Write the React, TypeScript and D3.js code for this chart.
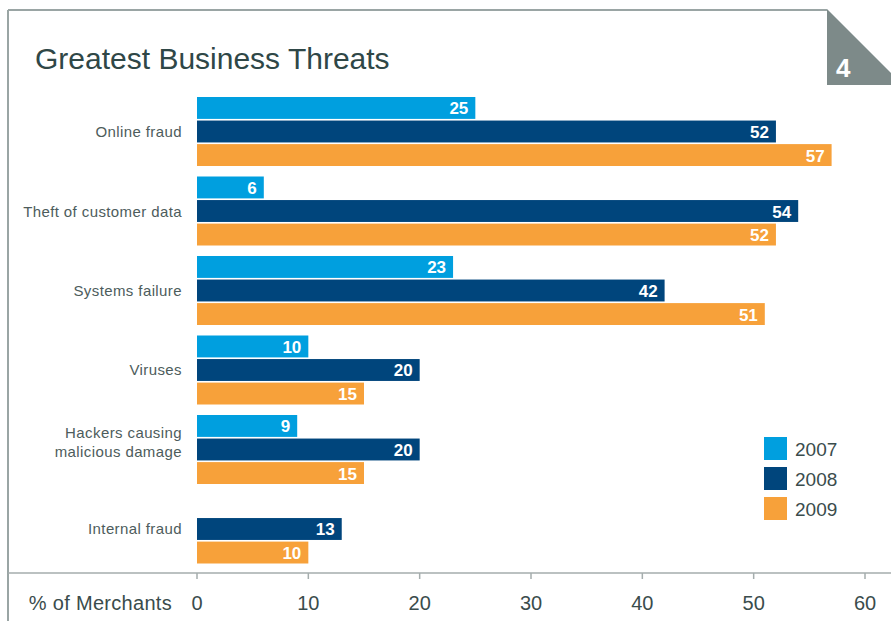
import React from "react";
import * as d3 from "d3";

const categories = [
  "Online fraud",
  "Theft of customer data",
  "Systems failure",
  "Viruses",
  "Hackers causing\nmalicious damage",
  "Internal fraud",
];
const years = ["2007", "2008", "2009"];
const values2007: (number | null)[] = [25, 6, 23, 10, 9, null];
const values2008: (number | null)[] = [52, 54, 42, 20, 20, 13];
const values2009: (number | null)[] = [57, 52, 51, 15, 15, 10];
const xTicks = [0, 10, 20, 30, 40, 50, 60];
const colors = ["#009fdf", "#00457c", "#f7a13a"];

const W = 891;
const H = 621;
const FONT = "'Liberation Sans', Arial, sans-serif";
const TEXT = "#3a4c4c";

export default function App() {
  const series = [values2007, values2008, values2009];
  const x = d3.scaleLinear().domain([0, 60]).range([197, 865]);
  const y0 = d3
    .scaleBand<string>()
    .domain(categories)
    .range([97, 563.5])
    .paddingInner(0.132)
    .paddingOuter(0);
  const y1 = d3
    .scaleBand<string>()
    .domain(years)
    .range([0, y0.bandwidth()])
    .paddingInner(0.07);

  return (
    <svg
      width={W}
      height={H}
      style={{ position: "absolute", left: 0, top: 0, display: "block" }}
      fontFamily={FONT}
    >
      <rect x={0} y={0} width={W} height={H} fill="#fff" />
      {/* frame */}
      <line x1={8} y1={10} x2={8} y2={H} stroke="#9aa5a4" strokeWidth={2} />
      <line x1={8} y1={10} x2={827} y2={10} stroke="#9aa5a4" strokeWidth={2} />
      <polygon points="827,9 891,73 891,85 827,85" fill="#7d8a89" />
      <text x={836} y={77} fill="#fff" fontSize={26} fontWeight="bold">
        4
      </text>
      {/* title */}
      <text x={35} y={69} fill="#2f4747" fontSize={30}>
        Greatest Business Threats
      </text>

      {/* bars */}
      {categories.map((cat, ci) => {
        const gy = y0(cat)!;
        const lines = cat.split("\n");
        const cy = gy + y0.bandwidth() / 2;
        return (
          <g key={cat}>
            {lines.map((ln, li) => (
              <text
                key={li}
                x={182}
                y={
                  lines.length === 1
                    ? cy
                    : cy - 7.5 + (li - (lines.length - 1) / 2) * 19
                }
                dominantBaseline="central"
                textAnchor="end"
                fontSize={15}
                letterSpacing={0.4}
                fill="#4d5c5c"
              >
                {ln}
              </text>
            ))}
            {years.map((yr, si) => {
              const v = series[si][ci];
              if (v == null) return null;
              const by = gy + y1(yr)!;
              return (
                <g key={yr}>
                  <rect
                    x={x(0)}
                    y={by}
                    width={x(v) - x(0)}
                    height={y1.bandwidth()}
                    fill={colors[si]}
                  />
                  <text
                    x={x(v) - 7}
                    y={by + y1.bandwidth() / 2 + 1}
                    dominantBaseline="central"
                    textAnchor="end"
                    fontSize={17}
                    fontWeight="bold"
                    fill="#fff"
                  >
                    {v}
                  </text>
                </g>
              );
            })}
          </g>
        );
      })}

      {/* axis */}
      <line x1={8} y1={573} x2={W} y2={573} stroke="#a5adad" strokeWidth={1.5} />
      {xTicks.map((t) => (
        <g key={t}>
          <line x1={x(t)} y1={573} x2={x(t)} y2={579} stroke="#a5adad" strokeWidth={1.5} />
          <text
            x={x(t)}
            y={603}
            textAnchor="middle"
            dominantBaseline="central"
            fontSize={20}
            fill={TEXT}
          >
            {t}
          </text>
        </g>
      ))}
      <text
        x={172}
        y={603}
        textAnchor="end"
        dominantBaseline="central"
        fontSize={20}
        letterSpacing={0.3}
        fill={TEXT}
      >
        % of Merchants
      </text>

      {/* legend */}
      {years.map((yr, i) => (
        <g key={yr}>
          <rect x={764} y={437 + i * 30} width={23} height={23} fill={colors[i]} />
          <text
            x={795}
            y={449 + i * 30}
            dominantBaseline="central"
            fontSize={19}
            fill={TEXT}
          >
            {yr}
          </text>
        </g>
      ))}
    </svg>
  );
}
